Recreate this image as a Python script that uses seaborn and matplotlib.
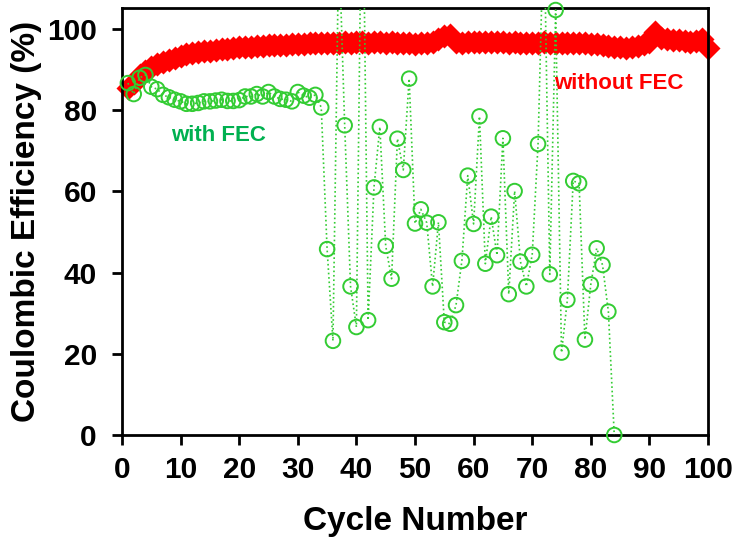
import numpy as np
import pandas as pd
import matplotlib
matplotlib.use("Agg")
import matplotlib.pyplot as plt
import seaborn as sns

# ---- data ----
cycles_with = list(range(1, 85))
ce_with = [86.7, 84.0, 88.0, 88.7, 85.8, 85.2, 83.8, 83.2, 82.6, 82.2,
           81.6, 81.6, 81.8, 82.2, 82.2, 82.4, 82.6, 82.3, 82.3, 82.5,
           83.4, 83.4, 84.0, 83.4, 84.5, 83.4, 82.8, 82.6, 82.2, 84.5,
           83.6, 83.1, 83.8, 80.7, 45.8, 23.2, 122.0, 76.3, 36.6, 26.6,
           150.0, 28.3, 61.0, 75.9, 46.6, 38.5, 73.0, 65.3, 87.8, 52.1,
           55.6, 52.3, 36.6, 52.4, 27.8, 27.4, 32.0, 42.9, 63.9, 52.0,
           78.5, 42.2, 53.8, 44.3, 73.1, 34.7, 60.1, 42.7, 36.6, 44.4,
           71.7, 128.0, 39.6, 104.7, 20.3, 33.3, 62.6, 62.0, 23.5, 37.1,
           46.0, 41.9, 30.4, 0.0]

cycles_without = list(range(1, 101))
ce_without = [85.5, 86.8, 88.8, 89.8, 90.6, 91.3, 91.9, 92.4, 92.9, 93.4,
              93.8, 94.1, 94.3, 94.5, 94.7, 94.9, 95.1, 95.2, 95.4, 95.5,
              95.6, 95.7, 95.8, 95.9, 96.0, 96.0, 96.1, 96.2, 96.3, 96.3,
              96.4, 96.5, 96.5, 96.6, 96.6, 96.7, 96.7, 96.8, 96.7, 96.8,
              96.8, 96.7, 96.8, 96.8, 96.7, 96.8, 96.7, 96.6, 96.5, 96.4,
              96.5, 96.6, 96.9, 97.5, 98.3, 98.6, 96.8, 96.7, 96.8, 96.9,
              96.9, 96.8, 96.9, 96.8, 96.8, 96.7, 96.8, 96.7, 96.7, 96.6,
              96.7, 96.8, 96.7, 96.6, 96.7, 96.6, 96.6, 96.5, 96.5, 96.4,
              96.3, 96.1, 95.9, 95.6, 95.5, 95.4, 95.6, 95.9, 96.4, 96.9,
              99.3, 97.8, 97.6, 97.4, 97.2, 97.0, 96.9, 97.0, 97.5, 95.3]

x_ticks = [0, 10, 20, 30, 40, 50, 60, 70, 80, 90, 100]
y_ticks = [0, 20, 40, 60, 80, 100]
label_with = "with FEC"
label_without = "without FEC"

# ---- style ----
sns.set_style("white")
plt.rcParams['font.family'] = ['Liberation Sans', 'DejaVu Sans']
plt.rcParams['font.weight'] = 'bold'
plt.rcParams['text.color'] = 'black'
plt.rcParams['axes.labelcolor'] = 'black'
plt.rcParams['xtick.color'] = 'black'
plt.rcParams['ytick.color'] = 'black'

df_w = pd.DataFrame({"cycle": cycles_with, "ce": ce_with})
df_wo = pd.DataFrame({"cycle": cycles_without, "ce": ce_without})

fig = plt.figure(figsize=(7.36, 5.44), dpi=100)
ax = fig.add_axes([122 / 736, 1 - 435 / 544, (708 - 122) / 736, (435 - 8) / 544])

YTOP = 105.2
green = '#33CC33'
red = '#FF0000'

# without FEC (red diamonds)
sns.scatterplot(data=df_wo, x="cycle", y="ce", marker='D', s=150, color=red,
                linewidth=0, ax=ax, zorder=2, clip_on=False, legend=False)

# with FEC (green dotted line + open circles)
sns.lineplot(data=df_w, x="cycle", y="ce", color=green, linestyle=':',
             linewidth=1.2, ax=ax, zorder=3, legend=False)
df_w_vis = df_w[df_w["ce"] <= YTOP + 1]
sns.scatterplot(data=df_w_vis, x="cycle", y="ce", marker='o', s=110,
                facecolors='none', edgecolor=green, linewidth=1.4,
                ax=ax, zorder=4, clip_on=False, legend=False)

ax.set_xlim(0, 100)
ax.set_ylim(0, YTOP)
ax.set_xticks(x_ticks)
ax.set_yticks(y_ticks)
ax.tick_params(axis='both', direction='out', length=7, width=2,
               labelsize=21.5, color='black', labelcolor='black',
               bottom=True, left=True)
ax.tick_params(axis='x', pad=8)
ax.tick_params(axis='y', pad=11)
for lab in ax.get_xticklabels() + ax.get_yticklabels():
    lab.set_fontweight('bold')

for sp in ax.spines.values():
    sp.set_visible(True)
    sp.set_color('black')
    sp.set_linewidth(2)

ax.set_xlabel("Cycle Number", fontsize=24, fontweight='bold', labelpad=16,
              color='black')
ax.set_ylabel("Coulombic Efficiency (%)", fontsize=24, fontweight='bold',
              labelpad=4, color='black')

ax.text(16.4, 73.7, label_with, color='#00B050', fontsize=16,
        fontweight='bold', ha='center', va='center')
ax.text(84.8, 86.5, label_without, color=red, fontsize=16,
        fontweight='bold', ha='center', va='center')

fig.savefig("out.png", dpi=100)
